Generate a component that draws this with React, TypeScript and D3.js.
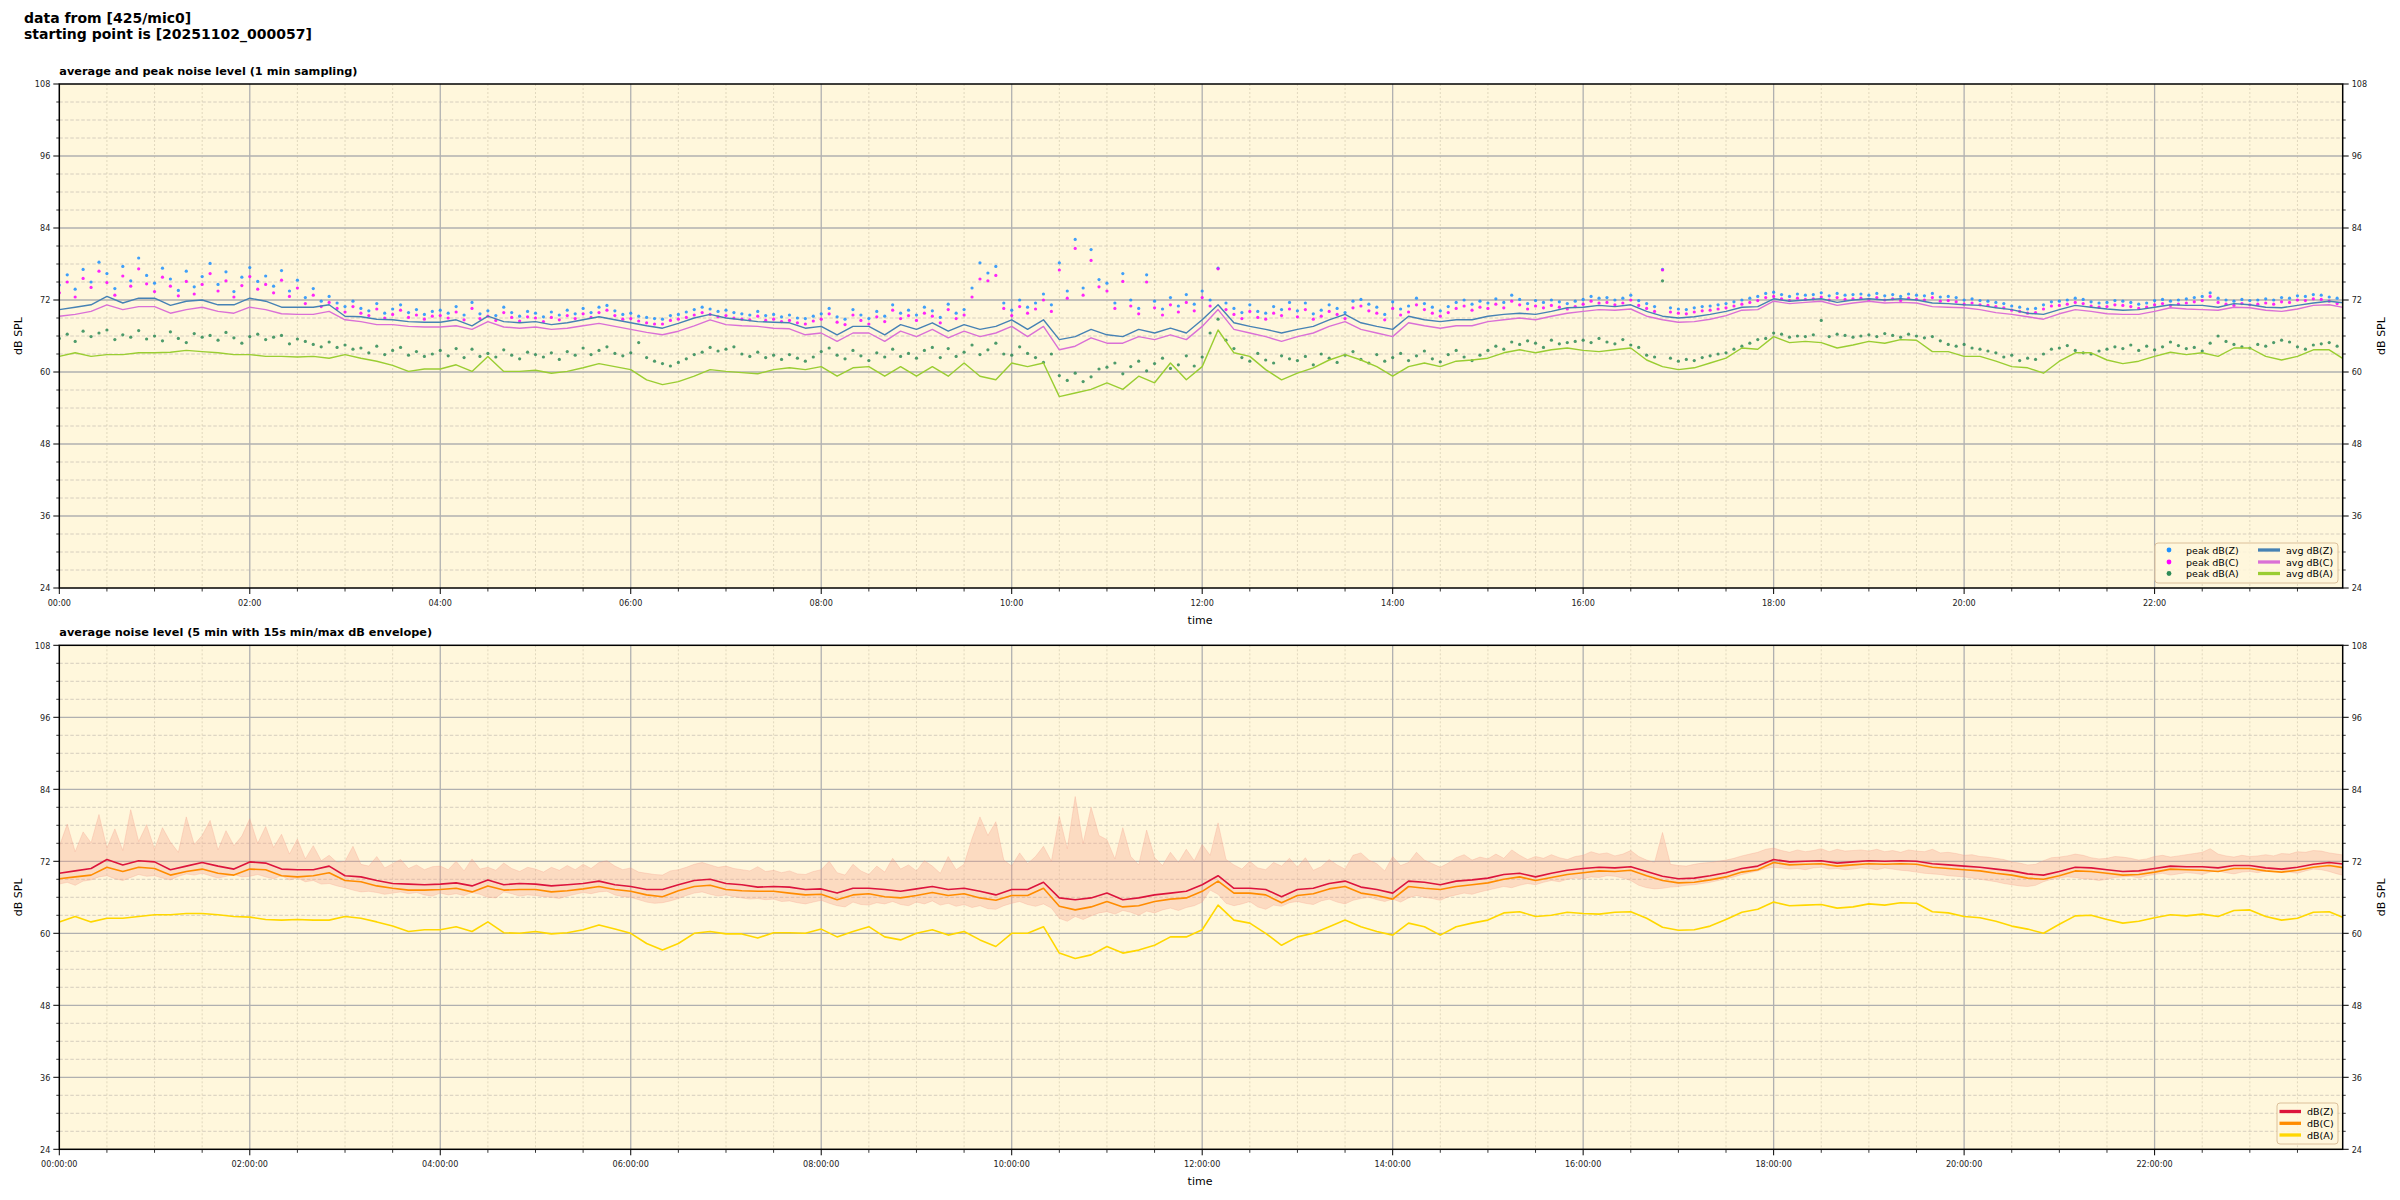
import React from 'react';
import * as d3 from 'd3';

// ---------- labels ----------
const figTitle1 = 'data from [425/mic0]';
const figTitle2 = 'starting point is [20251102_000057]';
const topTitle = 'average and peak noise level (1 min sampling)';
const botTitle = 'average noise level (5 min with 15s min/max dB envelope)';
const topXTickLabels = ['00:00', '02:00', '04:00', '06:00', '08:00', '10:00', '12:00', '14:00', '16:00', '18:00', '20:00', '22:00'];
const botXTickLabels = ['00:00:00', '02:00:00', '04:00:00', '06:00:00', '08:00:00', '10:00:00', '12:00:00', '14:00:00', '16:00:00', '18:00:00', '20:00:00', '22:00:00'];
const yTickValues = [24, 36, 48, 60, 72, 84, 96, 108];
const topLegendLabels = ['peak dB(Z)', 'peak dB(C)', 'peak dB(A)', 'avg dB(Z)', 'avg dB(C)', 'avg dB(A)'];
const botLegendLabels = ['dB(Z)', 'dB(C)', 'dB(A)'];

// ---------- top panel: 1-min averages (read every 10 min) ----------
const avgZ = [70.4,70.8,71.2,72.6,71.5,72.3,72.3,71.1,71.8,72.0, 71.2,71.2,72.3,71.8,70.8,70.8,70.8,71.2,69.3,69.2,
  68.8,68.7,68.4,68.3,68.3,68.7,67.7,69.3,68.4,68.2, 68.4,67.9,68.2,68.7,69.2,68.7,68.2,67.7,67.3,68.1,
  69.0,69.6,69.0,68.7,68.4,68.3,68.2,67.3,67.6,66.2, 67.6,67.6,66.2,67.9,67.1,68.2,66.8,67.9,67.1,67.6,
  68.7,67.1,68.7,65.4,65.9,67.1,66.2,65.9,67.1,66.5, 67.3,66.5,68.7,71.2,68.2,67.6,67.1,66.5,67.1,67.6,
  68.7,69.6,68.2,67.6,67.1,69.3,68.7,68.4,68.7,68.7, 69.3,69.6,69.8,69.6,70.1,70.7,70.8,71.1,70.9,71.2,
  70.1,69.3,69.0,69.2,69.6,70.1,70.8,70.9,72.2,71.8, 72.0,72.2,71.6,72.0,72.2,72.0,72.2,72.0,71.5,71.4,
  71.2,71.1,70.7,70.4,69.8,69.6,70.4,71.1,70.8,70.5, 70.3,70.4,70.8,71.2,71.1,71.1,70.8,71.4,71.2,70.8,
  70.7,71.1,71.5,71.8,71.5];
const avgC = [69.3,69.6,70.1,71.2,70.4,70.9,70.9,69.8,70.4,70.8, 70.1,69.8,70.8,70.4,69.7,69.6,69.6,70.1,68.7,68.4,
  67.9,67.9,67.6,67.5,67.5,67.7,67.1,68.4,67.5,67.3, 67.5,67.1,67.3,67.7,68.1,67.6,67.1,66.6,66.2,66.8,
  67.7,68.7,67.9,67.7,67.6,67.3,67.2,66.2,66.5,65.1, 66.5,66.5,65.1,66.8,65.9,67.1,65.7,66.8,65.9,66.5,
  67.6,65.9,67.6,63.7,64.3,65.7,64.8,64.8,65.9,65.4, 66.2,65.4,67.6,70.4,67.1,66.5,65.9,65.1,65.9,66.5,
  67.6,68.4,67.1,66.5,65.9,68.2,67.7,67.3,67.7,67.7, 68.4,68.7,69.0,68.7,69.3,69.8,70.1,70.4,70.3,70.5,
  69.3,68.7,68.3,68.4,68.8,69.4,70.3,70.4,71.8,71.4, 71.6,71.8,71.1,71.5,71.8,71.5,71.6,71.5,70.9,70.8,
  70.7,70.4,69.9,69.6,69.2,68.8,69.7,70.4,70.1,69.7, 69.6,69.6,70.1,70.7,70.5,70.4,70.3,70.8,70.7,70.3,
  70.1,70.5,71.1,71.2,70.7];
const avgA = [62.6,63.2,62.6,62.9,62.9,63.2,63.2,63.3,63.6,63.4, 63.2,62.9,62.9,62.6,62.6,62.5,62.6,62.3,62.9,62.3,
  61.8,61.1,60.1,60.5,60.5,61.2,60.1,62.6,60.1,60.1, 60.3,59.8,60.1,60.7,61.4,60.9,60.4,58.7,57.9,58.4,
  59.3,60.4,60.1,59.9,59.7,60.4,60.7,60.4,60.9,59.3, 60.7,60.9,59.3,60.9,59.3,60.9,59.3,61.5,59.3,58.7,
  61.5,60.9,61.5,55.9,56.5,57.1,58.2,57.1,59.3,58.2, 61.5,58.7,60.9,67.0,63.2,62.6,60.4,58.7,59.8,60.7,
  62.0,62.9,62.0,60.9,59.3,60.9,61.5,60.9,61.8,62.0, 62.3,63.2,63.7,63.2,63.7,64.0,63.6,63.4,63.7,64.0,
  62.0,60.9,60.4,60.7,61.5,62.3,64.0,63.8,65.9,64.9, 65.1,64.9,64.0,64.5,65.1,64.8,65.4,65.3,63.4,63.4,
  62.6,62.6,61.8,60.9,60.7,59.8,61.8,63.2,63.2,62.0, 61.4,61.8,62.6,63.3,62.9,63.2,62.6,64.0,64.0,62.6,
  62.0,62.6,63.7,63.7,62.0];

// ---------- top panel: peaks (read every 5 min) ----------
const peakZ = [
  74.5,76.2,73.8,77.1,75.0,78.3,76.4,73.9,77.6,75.2,79.0,76.1,
  74.8,77.3,75.5,73.6,76.8,74.2,75.9,78.1,74.6,76.7,73.4,75.8,
  77.4,75.1,76.0,74.3,76.9,73.5,75.3,72.4,73.9,71.8,72.6,71.5,
  70.9,71.8,70.6,70.2,71.4,69.8,70.5,71.2,69.9,70.4,69.6,70.1,
  70.3,69.8,70.9,69.5,71.6,69.7,70.2,69.4,70.8,69.9,69.3,70.1,
  69.8,69.2,70.0,69.5,70.3,69.7,70.6,69.9,70.8,71.1,70.2,69.6,
  69.8,69.3,69.1,68.9,68.8,69.4,69.6,70.0,70.4,70.8,70.5,70.1,
  70.3,69.9,69.7,69.5,70.1,69.4,69.6,69.2,69.5,69.0,68.9,69.3,
  69.7,70.6,69.2,68.8,70.4,69.5,68.9,70.1,69.3,71.2,69.8,70.3,
  69.5,70.8,70.2,69.1,71.3,69.8,70.4,74.0,78.2,76.5,77.6,71.5,
  70.3,72.0,70.8,71.5,73.0,71.2,78.2,73.5,82.1,74.0,80.4,75.4,
  74.8,71.5,76.4,72.0,70.6,76.2,71.8,70.5,72.4,71.0,72.9,71.3,
  73.5,72.0,77.3,71.5,70.6,69.9,71.2,70.1,69.8,70.9,70.4,71.6,
  70.2,71.5,69.7,70.3,71.2,70.6,69.9,71.8,72.1,71.3,70.8,69.6,
  71.7,70.5,71.0,72.3,71.4,70.8,70.2,70.9,71.6,72.0,71.3,71.8,
  71.5,72.2,71.6,72.8,72.1,71.4,71.9,71.6,72.0,71.7,71.4,71.8,
  72.1,72.6,72.3,72.4,72.0,72.3,72.8,71.9,71.4,70.9,77.1,70.7,
  70.5,70.4,70.7,70.9,71.0,71.2,71.4,71.7,72.0,72.3,72.6,73.1,
  73.3,72.9,72.6,73.0,72.8,72.9,73.2,72.7,73.1,72.8,72.9,73.0,
  72.8,73.1,72.7,72.9,72.6,73.0,72.8,72.7,73.1,72.5,72.6,72.4,
  72.0,72.2,71.9,71.8,71.6,71.4,71.0,70.8,70.5,70.6,71.2,71.7,
  71.8,72.0,72.3,72.1,71.7,71.5,71.6,71.9,71.8,71.6,71.3,71.5,
  71.9,72.1,71.8,72.0,72.2,72.4,72.6,73.2,72.3,72.0,71.8,72.1,
  71.9,72.0,72.2,72.0,72.4,72.3,72.7,72.6,72.9,72.8,72.5,72.3,
  72.4];
const peakC = [
  73.2,75.0,72.5,75.6,74.1,76.8,74.9,72.8,76.0,74.3,77.2,74.7,
  73.4,75.8,74.3,72.7,75.1,73.0,74.6,76.4,73.5,75.2,72.5,74.4,
  75.9,73.8,74.6,73.2,75.3,72.6,74.0,71.4,72.8,70.9,71.6,70.6,
  70.0,70.9,69.8,69.4,70.5,69.0,69.6,70.3,69.1,69.5,68.8,69.3,
  69.4,69.0,70.0,68.7,70.6,68.9,69.3,68.6,69.9,69.1,68.5,69.2,
  69.0,68.4,69.1,68.7,69.4,68.9,69.7,69.1,69.9,70.3,69.4,68.8,
  68.9,68.5,68.2,68.0,68.0,68.6,68.8,69.1,69.5,69.9,69.6,69.2,
  69.4,69.0,68.8,68.7,69.3,68.6,68.8,68.4,68.6,68.2,68.0,68.5,
  68.8,69.7,68.3,67.9,69.5,68.6,68.0,69.2,68.4,70.3,68.9,69.4,
  68.6,69.8,69.3,68.2,70.4,68.9,69.5,72.5,75.5,75.2,76.1,70.6,
  69.4,70.9,69.8,70.5,72.0,70.1,77.0,72.3,80.6,72.8,78.6,74.2,
  73.5,70.6,75.1,71.0,69.7,75.0,70.7,69.5,71.2,70.0,71.6,70.2,
  72.4,71.0,77.2,70.4,69.6,68.9,70.1,69.1,68.8,69.8,69.4,70.5,
  69.2,70.4,68.8,69.3,70.1,69.6,68.9,70.7,71.0,70.2,69.8,68.7,
  70.6,69.5,70.0,71.2,70.4,69.8,69.3,69.9,70.6,71.0,70.3,70.8,
  70.6,71.3,70.7,71.8,71.2,70.5,71.0,70.7,71.1,70.8,70.5,70.9,
  71.3,71.8,71.5,71.6,71.2,71.5,72.0,71.1,70.6,70.1,77.0,70.0,
  69.8,69.7,70.0,70.2,70.3,70.5,70.7,71.0,71.3,71.6,71.9,72.4,
  72.6,72.2,71.9,72.3,72.1,72.2,72.5,72.0,72.4,72.1,72.2,72.3,
  72.1,72.4,72.0,72.2,71.9,72.3,72.1,72.0,72.4,71.8,71.9,71.7,
  71.3,71.5,71.2,71.1,70.9,70.7,70.3,70.1,69.8,69.9,70.5,71.0,
  71.1,71.3,71.6,71.4,71.0,70.8,70.9,71.2,71.1,70.9,70.6,70.8,
  71.2,71.4,71.1,71.3,71.5,71.7,71.9,72.6,71.6,71.3,71.1,71.4,
  71.2,71.3,71.5,71.3,71.7,71.6,72.0,71.9,72.2,72.1,71.8,71.4,
  71.5];
const peakA = [
  65.6,66.3,65.1,66.8,65.9,66.5,67.0,65.4,66.2,65.8,66.9,65.5,
  66.0,65.2,66.7,65.6,64.9,66.4,65.8,66.1,65.3,66.6,65.7,64.8,
  65.9,66.3,65.4,65.8,66.1,64.7,65.5,65.1,64.6,64.2,65.0,64.1,
  64.5,63.8,64.0,63.2,64.3,62.9,63.6,64.1,62.8,63.4,62.6,63.0,
  63.6,62.7,63.9,62.4,63.8,62.6,63.1,62.5,63.7,62.8,62.2,63.3,
  62.9,62.5,63.2,62.1,63.4,62.8,64.0,62.9,63.6,64.2,63.1,62.7,
  63.2,64.9,62.4,61.8,61.4,61.0,61.6,62.2,62.9,63.3,64.1,63.5,
  63.8,64.2,63.0,62.6,63.3,62.4,62.8,62.1,62.9,62.3,61.8,62.5,
  63.4,64.0,62.8,62.2,63.6,62.7,61.9,63.2,62.5,63.8,62.6,63.1,
  62.3,63.6,64.1,62.4,63.9,62.6,63.3,64.5,62.9,63.7,64.8,63.0,
  62.8,64.2,63.1,62.4,61.6,63.0,59.4,58.6,59.8,58.4,59.2,60.5,
  60.8,61.5,59.7,60.9,61.8,60.2,61.4,62.3,60.6,61.2,62.7,61.0,
  62.5,66.5,68.8,65.3,63.9,62.4,61.8,63.1,62.0,61.5,62.7,62.2,
  61.9,62.6,61.2,63.0,62.3,61.6,62.8,63.4,62.1,61.5,62.9,61.8,
  62.4,63.1,61.9,62.7,63.5,62.2,61.7,62.9,63.6,62.5,61.9,62.8,
  63.6,64.3,63.8,65.0,64.6,65.2,64.8,64.1,65.3,64.7,64.9,65.1,
  65.3,64.9,65.6,65.0,64.7,65.4,64.5,64.1,62.8,62.5,75.2,62.3,
  61.8,62.1,61.9,62.4,62.7,63.0,63.2,63.8,64.3,64.8,65.4,65.6,
  66.5,66.3,65.8,66.0,65.9,66.2,68.6,65.9,66.3,66.1,65.8,66.0,
  66.2,65.9,66.4,66.1,65.8,66.3,66.0,65.7,65.9,65.2,64.6,64.3,
  64.6,64.0,63.8,63.5,63.2,62.5,62.8,61.9,62.3,62.1,63.0,63.8,
  64.0,64.4,63.6,63.2,63.0,63.5,63.8,64.2,63.9,64.5,63.6,64.3,
  63.7,64.2,65.0,64.4,63.9,64.1,63.5,64.8,66.0,65.1,64.6,64.2,
  64.0,64.6,64.3,64.9,65.3,65.0,64.2,63.8,64.5,64.7,64.9,64.3,
  63.5];

// ---------- bottom panel: 5-min averages (read every 10 min) ----------
const smZ = [70.0,70.4,70.8,72.3,71.4,72.1,71.9,70.6,71.2,71.8, 71.2,70.7,71.9,71.7,70.7,70.6,70.6,71.2,69.6,69.4,
  68.8,68.3,68.2,68.1,68.2,68.4,67.9,68.9,68.1,68.3, 68.2,67.9,68.1,68.3,68.7,68.1,67.8,67.3,67.3,68.1,
  68.8,69.0,68.3,68.1,67.7,67.8,67.7,67.3,67.4,66.7, 67.5,67.5,67.3,67.0,67.4,67.8,67.3,67.5,67.0,66.4,
  67.3,67.3,68.5,65.9,65.6,65.9,66.7,65.6,65.9,66.4, 66.7,67.0,68.1,69.6,67.5,67.5,67.3,66.1,67.3,67.5,
  68.3,68.7,67.7,67.3,66.7,68.7,68.5,68.1,68.7,68.9, 69.2,69.8,70.0,69.4,70.0,70.5,70.8,71.0,70.9,71.1,
  70.3,69.5,69.1,69.2,69.6,70.1,70.8,71.2,72.3,71.9, 72.0,72.1,71.7,71.9,72.1,72.0,72.1,72.0,71.6,71.4,
  71.2,71.0,70.7,70.4,69.9,69.7,70.3,71.0,70.9,70.6, 70.3,70.4,70.8,71.2,71.1,71.1,70.9,71.3,71.3,70.9,
  70.7,71.0,71.5,71.8,71.5];
const smC = [69.1,69.4,69.7,71.0,70.3,71.0,70.8,69.7,70.3,70.7, 70.0,69.7,70.7,70.6,69.6,69.4,69.6,70.1,68.8,68.6,
  67.9,67.5,67.2,67.2,67.3,67.5,66.9,67.9,67.2,67.3, 67.3,66.9,67.1,67.4,67.8,67.3,67.0,66.4,66.1,67.1,
  67.8,68.0,67.3,67.1,67.0,67.0,66.7,66.4,66.5,65.6, 66.4,66.6,66.1,65.9,66.3,66.8,66.3,66.6,65.9,65.5,
  66.3,66.3,67.5,64.5,63.9,64.4,65.3,64.4,64.6,65.3, 65.7,65.9,67.0,68.7,66.7,66.7,66.4,65.1,66.3,66.6,
  67.4,67.8,66.7,66.3,65.7,67.8,67.5,67.3,67.8,68.1, 68.4,69.0,69.4,68.8,69.3,69.8,70.1,70.4,70.3,70.5,
  69.6,68.8,68.4,68.5,68.9,69.4,70.2,70.6,71.8,71.4, 71.5,71.6,71.2,71.4,71.6,71.5,71.6,71.5,71.0,70.8,
  70.6,70.4,70.0,69.7,69.2,69.0,69.6,70.4,70.3,70.0, 69.7,69.8,70.2,70.7,70.6,70.5,70.3,70.8,70.8,70.4,
  70.2,70.5,71.0,71.3,70.9];
const smA = [61.9,62.8,61.9,62.5,62.5,62.8,63.1,63.1,63.3,63.3, 63.1,62.8,62.7,62.3,62.2,62.3,62.2,62.2,62.8,62.5,
  61.9,61.2,60.3,60.6,60.6,61.1,60.3,61.9,60.1,60.0, 60.3,59.9,60.1,60.6,61.4,60.7,60.0,58.3,57.2,58.3,
  60.0,60.3,59.9,59.9,59.2,60.1,60.1,60.0,60.7,59.4, 60.3,61.1,59.4,58.9,60.0,60.6,59.7,60.3,58.9,57.8,
  60.0,60.0,61.1,56.7,55.8,56.4,57.8,56.7,57.2,58.0, 59.4,59.4,60.6,64.7,62.2,61.7,60.0,58.0,59.4,60.0,
  61.1,62.2,61.1,60.3,59.7,61.7,61.1,59.7,61.1,61.7, 62.2,63.4,63.6,62.8,63.0,63.5,63.3,63.2,63.5,63.6,
  62.5,61.0,60.5,60.6,61.2,62.3,63.5,64.0,65.2,64.6, 64.7,64.8,64.2,64.4,64.9,64.7,65.1,65.0,63.6,63.4,
  62.8,62.6,62.0,61.2,60.7,60.0,61.5,62.9,63.0,62.3, 61.7,62.0,62.6,63.1,62.9,63.2,62.8,63.8,63.9,62.8,
  62.2,62.5,63.5,63.6,62.5];

// ---------- bottom panel: 15 s min/max envelope (read every 5 min) ----------
const envHi = [
  74.5,78.2,73.6,76.9,75.1,79.8,74.2,77.4,73.8,80.6,75.3,78.1,
  74.0,77.6,75.2,73.5,79.4,74.8,76.3,78.8,73.9,77.1,74.6,76.2,
  79.1,75.0,77.8,74.3,76.5,73.2,75.7,72.4,74.6,72.1,73.0,71.8,
  72.0,74.5,71.5,71.2,72.8,70.9,71.6,72.3,70.8,71.4,70.6,71.1,
  71.2,70.6,72.0,70.4,72.4,70.7,71.0,70.5,71.7,70.8,70.3,71.0,
  70.7,70.2,71.0,70.5,71.3,70.6,71.5,70.8,71.8,72.1,71.2,70.6,
  70.9,70.2,70.0,69.8,69.7,70.4,70.6,71.0,71.5,71.8,71.4,71.0,
  71.2,70.8,70.6,70.4,71.1,70.3,70.5,70.1,70.4,69.9,69.8,70.3,
  70.6,72.0,70.1,69.7,71.5,70.4,69.8,71.2,70.2,72.5,70.7,71.4,
  70.4,72.1,71.2,70.0,72.8,70.6,71.5,75.8,79.4,76.3,78.6,72.2,
  71.2,73.4,71.6,72.8,74.5,72.0,79.5,74.1,82.8,75.0,81.0,76.3,
  75.6,72.4,77.6,72.8,71.4,77.2,72.6,71.3,73.5,71.8,74.0,72.1,
  74.8,73.0,78.4,72.3,71.4,70.7,72.0,70.9,70.6,71.8,71.2,72.5,
  71.0,72.6,70.5,71.1,72.3,71.4,70.7,73.0,73.4,72.2,71.6,70.4,
  72.8,71.3,71.8,73.5,72.2,71.6,71.0,71.7,72.6,73.1,72.2,72.7,
  72.4,73.2,72.5,73.9,73.0,72.3,72.8,72.5,73.1,72.6,72.3,72.8,
  73.0,73.6,73.2,73.4,72.9,73.2,73.8,72.8,72.2,71.8,76.8,71.5,
  71.3,71.2,71.5,71.7,71.8,72.0,72.2,72.5,72.9,73.2,73.5,74.0,
  74.2,73.8,73.5,73.9,73.6,73.8,74.1,73.6,74.0,73.7,73.8,73.9,
  73.7,74.0,73.6,73.8,73.5,73.9,73.7,73.6,74.0,73.4,73.5,73.3,
  73.0,73.1,72.8,72.7,72.5,72.3,71.9,71.7,71.4,71.5,72.1,72.6,
  72.7,72.9,73.2,73.0,72.6,72.4,72.5,72.8,72.7,72.5,72.2,72.4,
  72.8,73.0,72.7,72.9,73.1,73.3,73.5,74.1,73.2,72.9,72.7,73.0,
  72.8,72.9,73.1,72.9,73.3,73.2,73.6,73.5,73.8,73.7,73.4,73.2,
  73.0];
const envLo = [
  68.2,68.5,68.0,68.7,68.9,69.4,69.6,69.1,68.8,69.3,69.8,69.5,
  69.6,69.2,68.9,69.5,69.9,69.7,70.0,69.6,69.2,69.5,69.8,69.4,
  69.5,69.8,69.4,69.1,69.6,68.9,69.2,68.6,68.8,68.2,68.3,67.9,
  67.6,67.2,66.9,67.0,66.8,66.5,66.7,66.9,66.6,66.8,66.4,66.2,
  66.7,66.4,66.6,66.3,66.8,66.5,66.0,65.9,66.9,66.6,66.2,66.4,
  66.3,66.1,66.0,65.8,66.2,66.5,66.8,66.6,66.9,67.0,66.4,66.1,
  66.0,65.6,65.2,65.0,65.1,65.4,65.8,66.3,66.7,66.9,66.5,66.2,
  66.4,66.1,65.9,65.7,65.8,65.6,65.7,65.3,65.4,65.1,64.9,65.2,
  65.5,65.0,64.6,64.4,65.2,64.8,64.7,65.1,64.9,65.3,64.8,64.6,
  65.2,64.9,65.4,64.7,65.0,64.5,64.8,64.3,64.6,64.1,64.0,64.6,
  65.0,65.3,64.8,64.5,64.9,64.2,62.5,62.0,62.8,62.3,62.9,63.4,
  63.6,63.2,63.8,63.5,63.0,63.7,63.4,63.9,64.2,63.8,64.3,64.6,
  65.2,67.2,66.5,65.0,64.6,64.9,65.3,64.4,64.0,64.7,64.5,65.1,
  65.3,65.0,64.8,65.4,65.7,65.2,64.9,65.5,65.8,66.0,65.6,65.3,
  65.7,65.2,65.9,66.3,66.0,65.8,65.5,66.1,66.4,66.7,66.5,66.9,
  67.2,67.5,67.8,67.6,68.0,68.3,68.1,68.5,68.8,68.6,69.0,69.2,
  69.1,69.4,69.3,69.6,69.5,69.2,68.8,68.0,67.6,67.4,67.5,67.7,
  67.8,68.0,68.1,68.3,68.5,68.8,69.1,69.4,69.8,70.1,70.4,70.8,
  71.0,70.9,70.7,70.8,70.6,70.9,71.0,70.7,70.8,70.6,70.7,70.9,
  70.8,70.6,70.9,70.7,70.5,70.4,70.2,70.0,69.9,69.8,69.6,69.5,
  69.4,69.2,69.0,68.8,68.6,68.3,68.1,67.9,67.8,68.0,68.6,69.0,
  69.2,69.4,69.3,69.1,69.0,68.8,69.0,69.3,69.4,69.5,69.2,69.6,
  69.8,70.0,69.7,69.9,70.1,70.0,69.8,70.2,70.4,70.1,69.9,70.2,
  70.3,70.1,70.4,70.6,70.5,70.2,70.0,70.4,70.7,70.6,70.3,69.9,
  69.6];

// ---------- styling ----------
const FONT = "'DejaVu Sans', 'Liberation Sans', sans-serif";
const TICKFONT = "'DejaVu Sans Condensed', 'DejaVu Sans', sans-serif";
const BG = '#fff7dc';
const C_PZ = '#1e90ff', C_PC = '#ff00ff', C_PA = '#2e8b57';
const C_AZ = '#4682b4', C_AC = '#da70d6', C_AA = '#9acd32';
const C_Z = '#dc143c', C_C = '#ff8c00', C_A = '#ffd700';

const X0 = 59.3, X1 = 2342.7;
const xScale = d3.scaleLinear().domain([0, 1438.5]).range([X0, X1]);
const majorX = d3.range(0, 1439, 120);
const minorX = d3.range(0, 1439, 30).filter((m) => m % 120 !== 0);
const minorY = d3.range(24, 109, 3).filter((v) => v % 12 !== 0);

function Panel({ top, bottom, id, title, xLabels, children }: any) {
  const y = d3.scaleLinear().domain([24, 108]).range([bottom, top]);
  const midY = (top + bottom) / 2;
  return (
    <g>
      <defs>
        <clipPath id={id}>
          <rect x={X0} y={top} width={X1 - X0} height={bottom - top} />
        </clipPath>
      </defs>
      <rect x={X0} y={top} width={X1 - X0} height={bottom - top} fill={BG} />
      {minorX.map((m) => (
        <line key={'vx' + m} x1={xScale(m)} x2={xScale(m)} y1={top} y2={bottom} stroke="#d9d0b6" strokeWidth={0.8} strokeDasharray="2,2" />
      ))}
      {minorY.map((v) => (
        <line key={'hy' + v} x1={X0} x2={X1} y1={y(v)} y2={y(v)} stroke="#cbc4b6" strokeWidth={0.8} strokeDasharray="3.5,2" />
      ))}
      {majorX.filter((m) => m > 0).map((m) => (
        <line key={'VX' + m} x1={xScale(m)} x2={xScale(m)} y1={top} y2={bottom} stroke="#b0b0b0" strokeWidth={1.3} />
      ))}
      {yTickValues.filter((v) => v > 24 && v < 108).map((v) => (
        <line key={'HY' + v} x1={X0} x2={X1} y1={y(v)} y2={y(v)} stroke="#b0b0b0" strokeWidth={1.3} />
      ))}
      <g clipPath={`url(#${id})`}>{children(y)}</g>
      <rect x={X0} y={top} width={X1 - X0} height={bottom - top} fill="none" stroke="#000" strokeWidth={1.5} />
      {yTickValues.map((v) => (
        <g key={'yt' + v}>
          <line x1={X0 - 6} x2={X0} y1={y(v)} y2={y(v)} stroke="#000" strokeWidth={1} />
          <line x1={X1} x2={X1 + 6} y1={y(v)} y2={y(v)} stroke="#000" strokeWidth={1} />
          <text x={X0 - 9} y={y(v) + 3.3} textAnchor="end" fontFamily={TICKFONT} fontSize={9} fill="#222">{v}</text>
          <text x={X1 + 9} y={y(v) + 3.3} textAnchor="start" fontFamily={TICKFONT} fontSize={9} fill="#222">{v}</text>
        </g>
      ))}
      {minorY.map((v) => (
        <g key={'ymt' + v}>
          <line x1={X0 - 3} x2={X0} y1={y(v)} y2={y(v)} stroke="#000" strokeWidth={0.8} />
          <line x1={X1} x2={X1 + 3} y1={y(v)} y2={y(v)} stroke="#000" strokeWidth={0.8} />
        </g>
      ))}
      {majorX.map((m, i) => (
        <g key={'xt' + m}>
          <line x1={xScale(m)} x2={xScale(m)} y1={bottom} y2={bottom + 6} stroke="#000" strokeWidth={1} />
          <text x={xScale(m)} y={bottom + 18} textAnchor="middle" fontFamily={TICKFONT} fontSize={9} fill="#222">{xLabels[i]}</text>
        </g>
      ))}
      {minorX.map((m) => (
        <line key={'xmt' + m} x1={xScale(m)} x2={xScale(m)} y1={bottom} y2={bottom + 3.5} stroke="#000" strokeWidth={0.8} />
      ))}
      <text x={X0} y={top - 9} fontFamily={FONT} fontWeight="bold" fontSize={11.3} fill="#000">{title}</text>
      <text x={1200} y={bottom + 36} textAnchor="middle" fontFamily={FONT} fontSize={11} fill="#000">time</text>
      <text transform={`translate(22,${midY}) rotate(-90)`} textAnchor="middle" fontFamily={FONT} fontSize={11} fill="#000">dB SPL</text>
      <text transform={`translate(2385,${midY}) rotate(-90)`} textAnchor="middle" fontFamily={FONT} fontSize={11} fill="#000">dB SPL</text>
    </g>
  );
}

function linePath(vals: number[], step: number, y: any) {
  return d3.line<number>().x((_, i) => xScale(i * step)).y((d) => y(d))(vals) || '';
}

export default function App() {
  const TOP0 = 84, TOP1 = 588, BOT0 = 645.3, BOT1 = 1149.3;
  const peakSeries = [
    { vals: peakZ, color: C_PZ },
    { vals: peakC, color: C_PC },
    { vals: peakA, color: C_PA },
  ];
  const avgSeries = [
    { vals: avgZ, color: C_AZ },
    { vals: avgC, color: C_AC },
    { vals: avgA, color: C_AA },
  ];
  const smSeries = [
    { vals: smZ, color: C_Z },
    { vals: smC, color: C_C },
    { vals: smA, color: C_A },
  ];
  const legRowsTop = [550, 562, 573.5];
  const legRowsBot = [1111.5, 1123.3, 1135];
  return (
    <svg width={2400} height={1200} style={{ position: 'absolute', left: 0, top: 0, background: '#fff' }}>
      <rect width={2400} height={1200} fill="#fff" />
      <text x={24} y={23} fontFamily={FONT} fontWeight="bold" fontSize={14} fill="#000">{figTitle1}</text>
      <text x={24} y={39} fontFamily={FONT} fontWeight="bold" fontSize={14} fill="#000">{figTitle2}</text>

      <Panel top={TOP0} bottom={TOP1} id="clipTop" title={topTitle} xLabels={topXTickLabels}>
        {(y: any) => (
          <g>
            {peakSeries.map((s, k) => (
              <g key={'ps' + k} fill={s.color} opacity={0.85}>
                {s.vals.map((v, j) => (
                  <circle key={j} cx={xScale(j * 5)} cy={y(v)} r={1.6} />
                ))}
              </g>
            ))}
            {avgSeries.map((s, k) => (
              <path key={'as' + k} d={linePath(s.vals, 10, y)} fill="none" stroke={s.color} strokeWidth={1.4} strokeLinejoin="round" />
            ))}
          </g>
        )}
      </Panel>

      <Panel top={BOT0} bottom={BOT1} id="clipBot" title={botTitle} xLabels={botXTickLabels}>
        {(y: any) => {
          const area = d3.area<number>()
            .x((_, i) => xScale(i * 5))
            .y0((_, i) => y(envLo[i]))
            .y1((d) => y(d));
          return (
            <g>
              <path d={area(envHi) || ''} fill="#f59a86" fillOpacity={0.3} stroke="#f59a86" strokeOpacity={0.35} strokeWidth={0.8} />
              {smSeries.map((s, k) => (
                <path key={'sm' + k} d={linePath(s.vals, 10, y)} fill="none" stroke={s.color} strokeWidth={1.6} strokeLinejoin="round" />
              ))}
            </g>
          );
        }}
      </Panel>

      <g>
        <rect x={2155} y={543} width={183} height={40} rx={3} fill={BG} fillOpacity={0.85} stroke="#dcc09a" strokeWidth={1} />
        {peakSeries.map((s, k) => (
          <g key={'lp' + k}>
            <circle cx={2169} cy={legRowsTop[k]} r={2.4} fill={s.color} />
            <text x={2186} y={legRowsTop[k] + 3.5} fontFamily={FONT} fontSize={9.5} fill="#000">{topLegendLabels[k]}</text>
          </g>
        ))}
        {avgSeries.map((s, k) => (
          <g key={'la' + k}>
            <line x1={2258} x2={2280} y1={legRowsTop[k]} y2={legRowsTop[k]} stroke={s.color} strokeWidth={3.3} />
            <text x={2286} y={legRowsTop[k] + 3.5} fontFamily={FONT} fontSize={9.5} fill="#000">{topLegendLabels[k + 3]}</text>
          </g>
        ))}
      </g>

      <g>
        <rect x={2277} y={1103} width={61} height={41} rx={3} fill={BG} fillOpacity={0.85} stroke="#dcc09a" strokeWidth={1} />
        {smSeries.map((s, k) => (
          <g key={'lb' + k}>
            <line x1={2279.5} x2={2301} y1={legRowsBot[k]} y2={legRowsBot[k]} stroke={s.color} strokeWidth={3.3} />
            <text x={2307} y={legRowsBot[k] + 3.5} fontFamily={FONT} fontSize={9.5} fill="#000">{botLegendLabels[k]}</text>
          </g>
        ))}
      </g>
    </svg>
  );
}
